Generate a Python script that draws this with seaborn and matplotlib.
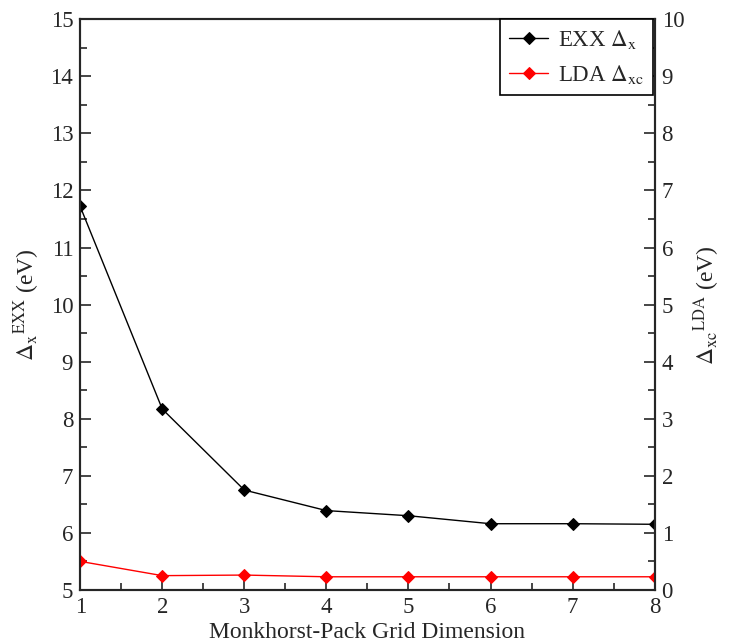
import numpy as np
import pandas as pd
import seaborn as sns
import matplotlib.pyplot as plt
from matplotlib.ticker import MultipleLocator

# Data
grid_dim = [1, 2, 3, 4, 5, 6, 7, 8]
exx_gap = [11.72, 8.17, 6.75, 6.39, 6.30, 6.16, 6.16, 6.15]
lda_gap = [0.50, 0.25, 0.26, 0.23, 0.23, 0.23, 0.23, 0.23]

sns.set_style("ticks")
plt.rcParams["font.family"] = ["Liberation Serif", "DejaVu Serif"]
plt.rcParams["mathtext.fontset"] = "stix"
plt.rcParams["xtick.direction"] = "in"
plt.rcParams["ytick.direction"] = "in"

df = pd.DataFrame({"dim": grid_dim, "exx": exx_gap, "lda": lda_gap})

fig = plt.figure(figsize=(7.29, 6.44), dpi=100)
ax = fig.add_axes([0.11, 0.084, 0.788, 0.886])
ax2 = ax.twinx()

sns.lineplot(data=df, x="dim", y="exx", ax=ax, color="black", marker="D",
             markersize=6, markeredgecolor="black", linewidth=1.0,
             label=r"EXX $\Delta_{\mathrm{x}}$", legend=False)
sns.lineplot(data=df, x="dim", y="lda", ax=ax2, color="red", marker="D",
             markersize=6, markeredgecolor="red", linewidth=1.0,
             label=r"LDA $\Delta_{\mathrm{xc}}$", legend=False)

ax.set_xlim(1, 8)
ax.set_ylim(5, 15)
ax2.set_ylim(0, 10)

for a in (ax, ax2):
    a.yaxis.set_major_locator(MultipleLocator(1))
    a.yaxis.set_minor_locator(MultipleLocator(0.5))
    a.tick_params(which="major", length=8, width=1.2, labelsize=16.5, pad=5)
    a.tick_params(which="minor", length=5, width=1.2)
    for s in a.spines.values():
        s.set_linewidth(1.5)
ax.xaxis.set_major_locator(MultipleLocator(1))
ax.xaxis.set_minor_locator(MultipleLocator(0.5))
ax.tick_params(axis="x", which="both", top=False, pad=5)

ax.set_xlabel("Monkhorst-Pack Grid Dimension", fontsize=17, labelpad=3)
ax.set_ylabel(r"$\Delta_{\mathrm{x}}{}^{\mathrm{EXX}}$ (eV)", fontsize=17, labelpad=6)
ax2.set_ylabel(r"$\Delta_{\mathrm{xc}}{}^{\mathrm{LDA}}$ (eV)", fontsize=17, labelpad=5)

h1, l1 = ax.get_legend_handles_labels()
h2, l2 = ax2.get_legend_handles_labels()
leg = ax2.legend(h1 + h2, l1 + l2, loc="upper right", fontsize=16.5, frameon=True,
                 fancybox=False, edgecolor="black", framealpha=1,
                 bbox_to_anchor=(0.997, 1.0), borderaxespad=0.0,
                 handlelength=1.7, handletextpad=0.4,
                 labelspacing=0.5, borderpad=0.4)
leg.get_frame().set_linewidth(1.2)

fig.savefig("out.png", dpi=100)
